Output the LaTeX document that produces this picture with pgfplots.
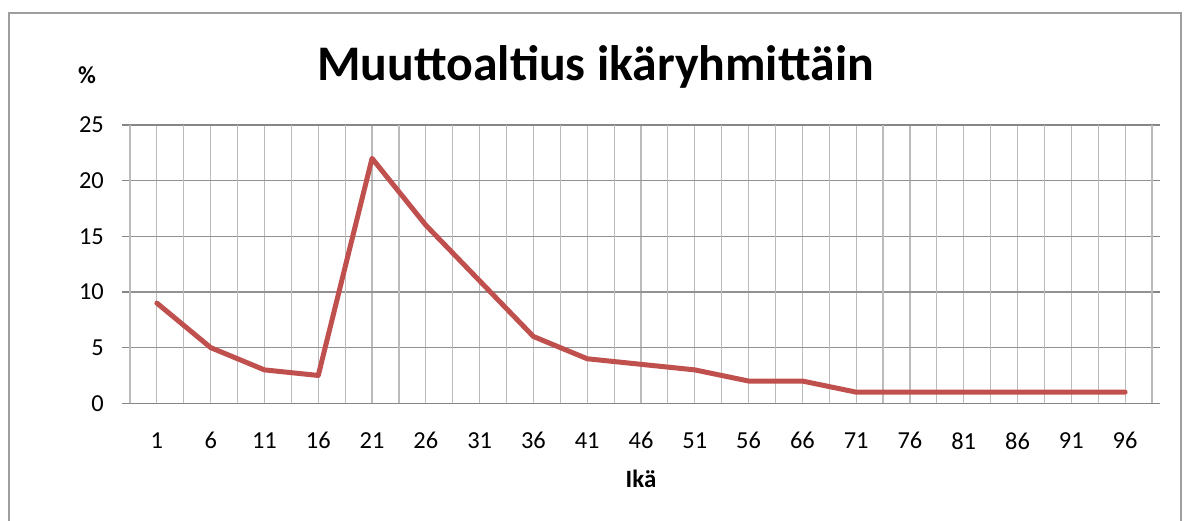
\documentclass[border=0pt]{standalone}
\usepackage{pgfplots}
\pgfplotsset{compat=1.18}
\usepackage{fontspec}
\setmainfont{Carlito}
\definecolor{linered}{HTML}{C0504D}
\definecolor{axisgray}{HTML}{868686}
\definecolor{vgrid}{HTML}{BBBBBB}
\begin{document}
\begin{tikzpicture}[x=1bp,y=1bp]
\useasboundingbox (0,0) rectangle (1187,521);
\draw[color=axisgray!80, line width=1.2bp] (9,-10) -- (9,508) -- (1181,508) -- (1181,-10);
\node[font=\bfseries\fontsize{50}{55}\selectfont] at (595.5,454) {Muuttoaltius ikäryhmittäin};
\node[font=\bfseries\fontsize{24.5}{26}\selectfont] at (87,446) {\%};
\begin{axis}[
  at={(130bp,117.7bp)}, anchor=south west,
  scale only axis, width=1022bp, height=278.3bp,
  xmin=-0.5, xmax=18.5, ymin=0, ymax=25,
  ytick={0,5,10,15,20,25},
  xtick={0,...,18},
  xticklabels={1,6,11,16,21,26,31,36,41,46,51,56,66,71,76,81,86,91,96},
  extra x ticks={-0.5,0.5,...,18.5},
  extra x tick labels={},
  extra x tick style={grid=major, major grid style={color=vgrid, line width=1.2bp}, major tick length=8bp, tick style={color=axisgray, line width=1.2bp}},
  xtick style={draw=none},
  xmajorgrids, ymajorgrids,
  major grid style={color=vgrid, line width=1.2bp},
  y grid style={color=axisgray!90, line width=1.2bp},
  ytick style={color=axisgray, line width=1.2bp},
  major tick length=8bp,
  tick align=outside,
  axis line style={color=axisgray, line width=1.2bp},
  /pgf/number format/assume math mode=true,
  tick label style={font=\fontsize{24.5}{26}\selectfont, inner sep=0pt},
  yticklabel style={anchor=east, xshift=-18bp},
  xticklabel style={anchor=north, yshift=-21bp},
  xlabel={\textbf{Ikä}},
  xlabel style={font=\bfseries\fontsize{25}{27}\selectfont, inner sep=0pt, anchor=center, at={(0.5,-0.27)}},
]
\addplot[color=linered, line width=5bp, line join=round, line cap=round] coordinates {
(0,9) (1,5) (2,3) (3,2.5) (4,22) (5,16) (6,11) (7,6) (8,4) (9,3.5) (10,3) (11,2) (12,2) (13,1) (14,1) (15,1) (16,1) (17,1) (18,1)
};
\end{axis}
\end{tikzpicture}
\end{document}
